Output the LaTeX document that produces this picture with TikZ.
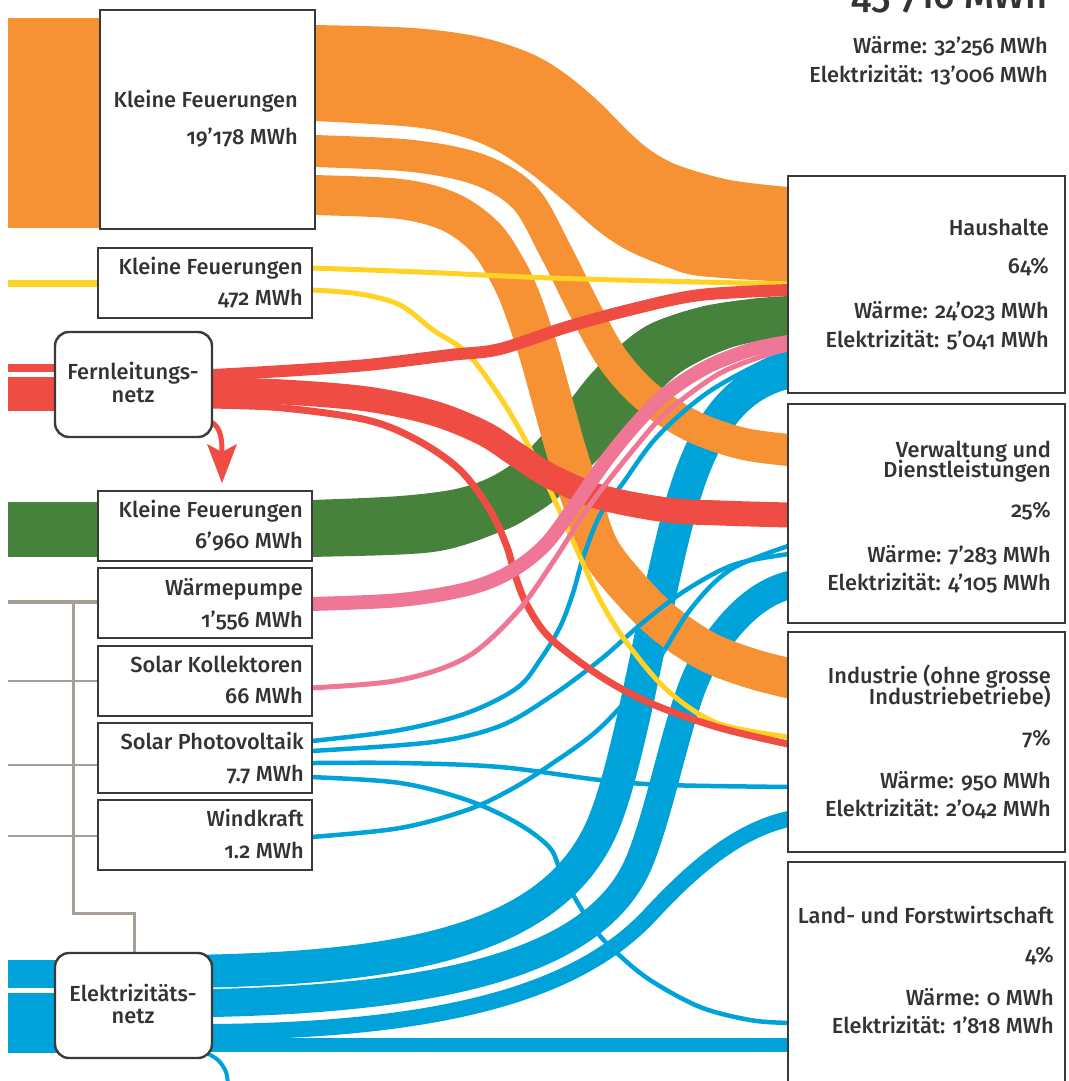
\documentclass[tikz,border=0pt]{standalone}
\usepackage{fontspec}
\setmainfont{Fira Sans}[Numbers=OldStyle, UprightFont={* Medium}]
\definecolor{cOr}{RGB}{246,146,52}
\definecolor{cYe}{RGB}{255,210,35}
\definecolor{cRe}{RGB}{239,76,68}
\definecolor{cGr}{RGB}{70,130,60}
\definecolor{cPi}{RGB}{240,118,150}
\definecolor{cBl}{RGB}{0,162,218}
\definecolor{cGy}{RGB}{168,158,148}
\definecolor{cBx}{RGB}{58,58,58}
\definecolor{cTx}{RGB}{51,51,51}
\begin{document}
\begin{tikzpicture}[x=1pt,y=-1pt,
  box/.style={draw=cBx, line width=2.4pt, fill=white, inner sep=0pt, outer sep=0pt, anchor=north west},
  rbox/.style={box, rounded corners=14pt},
  lbl/.style={anchor=base east, inner sep=0pt, text=cTx, font=\fontsize{21.8}{24}\selectfont},
  clbl/.style={anchor=base, inner sep=0pt, text=cTx, font=\fontsize{21.8}{24}\selectfont},
  flow/.style={line cap=butt, line join=round},
  sm/.style={smooth, tension=0.55}]
\useasboundingbox (0,0) rectangle (1068,1081);
\clip (0,0) rectangle (1068,1081);

% incoming from the left
\fill[cOr] (8,18) rectangle (101,228);
\draw[cYe, line width=7pt] (8,283) -- (99,283);
\fill[cRe] (8,364) rectangle (57,372);
\fill[cRe] (8,377) rectangle (57,411);
\fill[cGr] (8,502) rectangle (99,557);
\fill[cBl] (8,960) rectangle (57,988);
\fill[cBl] (8,993) rectangle (57,1053);

% grey network
\draw[cGy, line width=3.5pt] (8,602) -- (99,602);
\draw[cGy, line width=3pt] (73,602) -- (73,913) -- (134,913) -- (134,954);
\draw[cGy, line width=1.8pt] (8,681) -- (99,681) (8,765) -- (99,765) (8,836) -- (99,836);

% thick electricity bands
\draw[flow, cBl, line width=33pt] (200,971) -- (212,971) .. controls (420,966) and (560,935) .. (605,820) .. controls (632,751) and (655,600) .. (680,510) .. controls (705,420) and (740,378) .. (800,370);
\draw[flow, cBl, line width=28pt] (200,1003) -- (212,1003) .. controls (450,998) and (600,960) .. (640,860) .. controls (664,800) and (680,700) .. (705,660) .. controls (730,620) and (760,588) .. (800,583);
\draw[flow, cBl, line width=16pt] (200,1032) -- (212,1032) .. controls (450,1030) and (580,990) .. (650,915) .. controls (690,872) and (740,825) .. (800,817);
\draw[flow, cBl, line width=14pt] (200,1045) -- (800,1045);
\draw[flow, cBl, line width=4pt] plot[sm] coordinates {(205,1052) (218,1060) (226,1072) (228,1085)};

% green
\fill[cGr] plot[sm] coordinates {(300,500) (312,500) (400,496) (460,488) (500,472) (533,445) (567,404) (590,375) (617,348) (650,324) (700,307) (750,299) (788,296) (800,296)} -- plot[sm] coordinates {(800,336) (788,336) (733,347) (687,368) (660,390) (633,418) (600,457) (560,496) (530,517) (500,532) (433,552) (312,557) (300,557)} -- cycle;

% orange
\fill[cOr] plot[sm] coordinates {(300,25) (315,25) (413,28) (480,37) (530,53) (563,72) (597,100) (630,133) (653,152) (680,166) (730,180) (788,187) (800,187)} -- plot[sm] coordinates {(800,282) (788,282) (700,276) (667,267) (627,250) (597,230) (563,200) (530,173) (497,151) (463,137) (413,127) (315,121) (300,121)} -- cycle;
\draw[flow, cOr, line width=32pt] plot[sm] coordinates {(300,151) (315,151) (413,156) (480,170) (525,198) (555,250) (585,310) (612,358) (645,395) (690,425) (740,443) (788,450) (800,450)};
\draw[flow, cOr, line width=40pt] plot[sm] coordinates {(300,195) (315,195) (400,199) (450,212) (485,237) (507,270) (521,300) (538,350) (552,400) (566,450) (582,500) (600,550) (633,592) (667,625) (708,652) (750,668) (788,678) (800,679)};

% thin blue lines
\draw[flow, cBl, line width=4.5pt] plot[sm] coordinates {(300,741) (312,741) (400,730) (467,713) (517,688) (540,660) (560,627) (573,593) (583,558) (600,515) (623,483) (657,437) (707,393) (767,360) (788,354) (800,353)};
\draw[flow, cBl, line width=4.5pt] plot[sm] coordinates {(300,751) (312,751) (433,742) (500,726) (550,697) (600,660) (640,625) (683,592) (733,565) (788,554) (800,553)};
\draw[flow, cBl, line width=4.5pt] plot[sm] coordinates {(300,763) (312,763) (400,763) (500,767) (600,780) (667,785) (788,787) (800,787)};
\draw[flow, cBl, line width=4.5pt] plot[sm] coordinates {(300,777) (312,777) (400,783) (467,800) (517,823) (550,848) (563,877) (593,927) (617,953) (650,980) (700,1007) (750,1020) (788,1023) (800,1023)};
\draw[flow, cBl, line width=4.5pt] plot[sm] coordinates {(300,837) (312,837) (400,828) (467,810) (510,790) (550,765) (600,728) (650,672) (690,610) (730,570) (788,546) (800,545)};

% yellow
\draw[flow, cYe, line width=5pt] plot[sm] coordinates {(300,268) (312,268) (420,272) (550,278) (700,282) (788,284) (800,284)};
\draw[flow, cYe, line width=5pt] plot[sm] coordinates {(300,290) (312,290) (360,294) (400,305) (433,330) (467,353) (500,397) (527,443) (550,490) (577,550) (600,600) (627,643) (667,690) (717,723) (788,737) (800,737)};

% red
\draw[flow, cRe, line width=7pt] plot[sm] coordinates {(200,405) (212,405) (283,408) (367,420) (417,440) (460,470) (490,510) (507,547) (515,575) (527,605) (550,638) (600,676) (650,703) (717,727) (788,744) (800,745)};
\draw[flow, cRe, line width=25pt] plot[sm] coordinates {(200,390) (212,390) (283,392) (367,399) (433,413) (483,433) (517,455) (550,476) (600,497) (667,510) (720,513) (788,515) (800,515)};
\draw[flow, cRe, line width=12pt] plot[sm] coordinates {(200,375) (212,375) (283,371) (367,365) (450,355) (500,349) (567,327) (633,309) (700,295) (788,290) (800,290)};
\draw[flow, cRe, line width=5pt] (205,419) .. controls (220,424) and (222,435) .. (222,452);
\fill[cRe] (207,444) -- (222,452) -- (237,444) -- (222,483) -- cycle;

% pink
\draw[flow, cPi, line width=14pt] plot[sm] coordinates {(300,604) (312,604) (400,600) (467,589) (510,572) (545,545) (575,505) (605,462) (635,425) (667,393) (707,367) (750,350) (788,342) (800,341)};
\draw[flow, cPi, line width=5pt] plot[sm] coordinates {(300,688) (312,688) (400,680) (467,657) (517,612) (553,562) (590,505) (633,450) (667,412) (717,375) (760,357) (788,349) (800,349)};

% left boxes
\node[box, minimum width=215pt, minimum height=219pt] (kf1) at (100,10) {};
\node[box, minimum width=214pt, minimum height=70pt] (kf2) at (98,248) {};
\node[rbox, minimum width=157pt, minimum height=105pt] (fern) at (55,332) {};
\node[box, minimum width=214pt, minimum height=70pt] (kf3) at (98,491) {};
\node[box, minimum width=214pt, minimum height=70pt] (wp) at (98,568) {};
\node[box, minimum width=214pt, minimum height=70pt] (sk) at (98,646) {};
\node[box, minimum width=214pt, minimum height=70pt] (pv) at (98,723) {};
\node[box, minimum width=214pt, minimum height=70pt] (wk) at (98,800) {};
\node[rbox, minimum width=157pt, minimum height=105pt] (elek) at (55,953) {};

% right boxes
\node[box, minimum width=277pt, minimum height=217pt] (hh) at (788,176) {};
\node[box, minimum width=277pt, minimum height=219pt] (vw) at (788,404) {};
\node[box, minimum width=277pt, minimum height=220pt] (ind) at (788,632) {};
\node[box, minimum width=277pt, minimum height=240pt] (lw) at (788,862) {};

% left texts
\node[lbl] (t1a) at (298,107) {Kleine Feuerungen};
\node[lbl] (t1b) at (298,144) {19’178 MWh};
\node[lbl] (t2a) at (303,274) {Kleine Feuerungen};
\node[lbl] (t2b) at (303,305) {472 MWh};
\node[clbl] (tfa) at (133,379) {Fernleitungs-};
\node[clbl] (tfb) at (133,402) {netz};
\node[lbl] (t3a) at (303,517) {Kleine Feuerungen};
\node[lbl] (t3b) at (303,548) {6’960 MWh};
\node[lbl] (t4a) at (303,595) {Wärmepumpe};
\node[lbl] (t4b) at (303,627) {1’556 MWh};
\node[lbl] (t5a) at (303,672) {Solar Kollektoren};
\node[lbl] (t5b) at (303,703) {66 MWh};
\node[lbl] (t6a) at (304,749) {Solar Photovoltaik};
\node[lbl] (t6b) at (304,781) {7.7 MWh};
\node[lbl] (t7a) at (304,826) {Windkraft};
\node[lbl] (t7b) at (304,858) {1.2 MWh};
\node[clbl] (tea) at (133,1001) {Elektrizitäts-};
\node[clbl] (teb) at (133,1023) {netz};

% right texts
\node[lbl] (hha) at (1049,235) {Haushalte};
\node[lbl] (hhb) at (1049,273) {64\%};
\node[lbl] (hhc) at (1049,318) {Wärme: 24’023 MWh};
\node[lbl] (hhd) at (1049,347) {Elektrizität: 5’041 MWh};
\node[lbl] (vwa) at (1051,457) {Verwaltung und};
\node[lbl] (vwb) at (1051,477) {Dienstleistungen};
\node[lbl] (vwc) at (1051,517) {25\%};
\node[lbl] (vwd) at (1051,562) {Wärme: 7’283 MWh};
\node[lbl] (vwe) at (1051,590) {Elektrizität: 4’105 MWh};
\node[lbl] (ina) at (1051,683) {Industrie (ohne grosse};
\node[lbl] (inb) at (1051,704) {Industriebetriebe)};
\node[lbl] (inc) at (1051,745) {7\%};
\node[lbl] (ind2) at (1051,788) {Wärme: 950 MWh};
\node[lbl] (ine) at (1051,816) {Elektrizität: 2’042 MWh};
\node[lbl] (lwa) at (1054,923) {Land- und Forstwirtschaft};
\node[lbl] (lwb) at (1054,962) {4\%};
\node[lbl] (lwc) at (1054,1005) {Wärme: 0 MWh};
\node[lbl] (lwd) at (1054,1033) {Elektrizität: 1’818 MWh};

% totals
\node[anchor=base east, inner sep=0pt, text=cTx, font=\fontsize{38}{40}\selectfont] (tot) at (1048,9) {45’716 MWh};
\node[lbl] (tota) at (1048,53) {Wärme: 32’256 MWh};
\node[lbl] (totb) at (1048,82) {Elektrizität: 13’006 MWh};
\end{tikzpicture}
\end{document}
